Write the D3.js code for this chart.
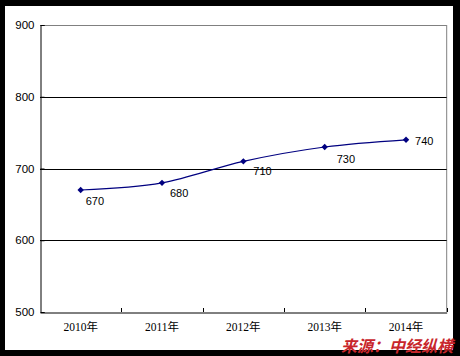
<!DOCTYPE html>
<html><head><meta charset="utf-8">
<script src="https://cdn.jsdelivr.net/npm/d3@7"></script>
<style>body{margin:0;background:#000;}svg{display:block;}</style>
</head><body>
<script>
const categories = ["2010年","2011年","2012年","2013年","2014年"];
const values = [670, 680, 710, 730, 740];
const yTicks = [500, 600, 700, 800, 900];
const labelDx = [5, 8, 10, 12, 9];
const labelDy = [15, 14, 14, 16, 5];

const W = 460, H = 356;
const svg = d3.select("body").append("svg").attr("width", W).attr("height", H);
svg.append("rect").attr("width", W).attr("height", H).attr("fill", "#000");
svg.append("rect").attr("x", 5).attr("y", 6).attr("width", 448).attr("height", 344).attr("fill", "#fff");

const L = 40, T = 25, R = 446.7, B = 312;
const x = d3.scaleBand().domain(categories).range([L, R]).padding(0);
const y = d3.scaleLinear().domain([500, 900]).range([B, T]);

// plot border (gray top/right)
svg.append("line").attr("x1", L).attr("x2", R).attr("y1", T + 0.5).attr("y2", T + 0.5).attr("stroke", "#808080");
svg.append("line").attr("x1", R).attr("x2", R).attr("y1", T).attr("y2", B).attr("stroke", "#808080");

// gridlines
svg.append("g").selectAll("line").data(yTicks.filter(d => d > 500 && d < 900)).join("line")
  .attr("x1", L).attr("x2", R).attr("y1", d => Math.round(y(d)) + 0.5).attr("y2", d => Math.round(y(d)) + 0.5)
  .attr("stroke", "#000");

// y axis
const yAxis = svg.append("g").attr("transform", `translate(${L + 0.5},0)`)
  .call(d3.axisLeft(y).tickValues(yTicks).tickSize(-4).tickPadding(6));
yAxis.select(".domain").attr("stroke", "#000");
yAxis.selectAll(".tick line").attr("stroke", "#000");
yAxis.selectAll("text").attr("font-family", "Liberation Sans, Arial, sans-serif").attr("font-size", 11.5).attr("fill", "#000");

// x axis
const xAxis = svg.append("g").attr("transform", `translate(0,${B + 0.5})`)
  .call(d3.axisBottom(x).tickSize(0).tickPadding(10));
xAxis.select(".domain").attr("stroke", "#000");
xAxis.selectAll("text").attr("font-family", "Liberation Serif, 'Noto Sans CJK SC', serif").attr("font-size", 11.5).attr("fill", "#000");
// x ticks at band boundaries (inward)
svg.append("g").selectAll("line").data(categories.slice(1).concat(["end"])).join("line")
  .attr("x1", (d, i) => Math.round(i < 4 ? x(d) : R) + 0.5)
  .attr("x2", (d, i) => Math.round(i < 4 ? x(d) : R) + 0.5)
  .attr("y1", B - 4).attr("y2", B).attr("stroke", "#000");

// line
const pts = categories.map((c, i) => [x(c) + x.bandwidth() / 2, y(values[i])]);
svg.append("path").attr("d", d3.line().curve(d3.curveCatmullRom.alpha(0.5))(pts))
  .attr("fill", "none").attr("stroke", "#000080").attr("stroke-width", 1.2);

// markers
svg.append("g").selectAll("path").data(pts).join("path")
  .attr("d", d3.symbol(d3.symbolDiamond2, 26))
  .attr("transform", d => `translate(${d[0]},${d[1]})`)
  .attr("fill", "#000080");

// labels
svg.append("g").selectAll("text").data(values).join("text")
  .attr("x", (d, i) => pts[i][0] + labelDx[i])
  .attr("y", (d, i) => pts[i][1] + labelDy[i])
  .attr("font-family", "Liberation Sans, Arial, sans-serif").attr("font-size", 11).attr("fill", "#000")
  .text(d => d);

// source
svg.append("text").attr("x", 453).attr("y", 352).attr("text-anchor", "end")
  .attr("font-family", "'Noto Sans CJK SC', sans-serif").attr("font-weight", "bold").attr("font-style", "italic")
  .attr("font-size", 16).attr("fill", "#c8262b").text("来源：中经纵横");
</script>
</body></html>
